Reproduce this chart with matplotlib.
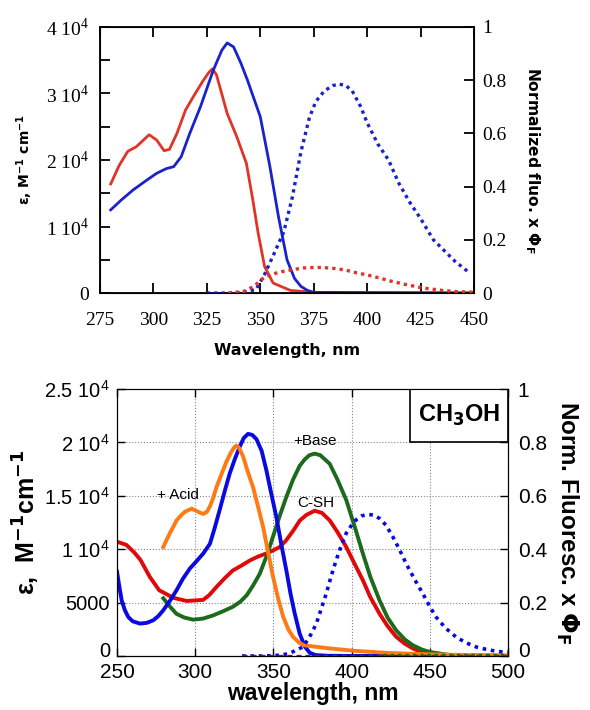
import matplotlib.pyplot as plt
from matplotlib.transforms import ScaledTranslation
import numpy as np

# ---------------- top panel data ----------------
top_red_x = [280, 284, 288, 292, 298, 301.5, 305, 307.5, 311, 315, 319, 323, 326, 327.6,
             329.5, 331.5, 334.5, 339, 343.5, 346.5, 349, 352, 356, 364, 375, 400, 450]
top_red_y = [16400, 19200, 21300, 22000, 23800, 23000, 21400, 21600, 24000, 27500, 29700, 31800,
             33200, 33700, 32800, 30500, 27000, 23500, 19500, 14000, 9000, 4000, 1500, 400, 100, 50, 0]

top_blue_x = [280, 285, 290.5, 297, 301.5, 306, 309.5, 313, 317, 322, 328, 332, 334.5, 337.5,
              341, 344, 350, 354.5, 358.5, 362.5, 366, 369, 372, 375, 400, 450]
top_blue_y = [12500, 14000, 15500, 17000, 18000, 18700, 19000, 20500, 24000, 28000, 33500, 36500,
              37600, 37000, 34500, 32000, 26500, 19000, 11500, 5000, 2200, 1000, 400, 100, 50, 0]

top_fl_blue_x = [325, 335, 342, 348, 352, 356, 361, 365, 369, 373, 376, 380, 384, 387, 390,
                 393, 397, 400, 405, 410, 415, 420, 425, 431, 436, 441, 448]
top_fl_blue_y = [0, 0, 0.003, 0.013, 0.07, 0.14, 0.23, 0.36, 0.53, 0.66, 0.72, 0.76, 0.78, 0.785,
                 0.78, 0.76, 0.70, 0.64, 0.56, 0.50, 0.41, 0.34, 0.28, 0.20, 0.16, 0.12, 0.075]

top_fl_red_x = [335, 342, 347, 352, 356, 360, 365, 370, 375, 379, 385, 390, 395, 400, 405, 411,
                418, 426, 435, 442, 450]
top_fl_red_y = [0, 0.005, 0.025, 0.06, 0.072, 0.08, 0.088, 0.094, 0.096, 0.096, 0.092, 0.086,
                0.076, 0.068, 0.058, 0.045, 0.032, 0.019, 0.01, 0.005, 0.003]

top_xticks = [275, 300, 325, 350, 375, 400, 425, 450]
top_yticks = [0, 10000, 20000, 30000, 40000]
top_ylabels = ["0", r"1 10$^{\mathregular{4}}$", r"2 10$^{\mathregular{4}}$",
               r"3 10$^{\mathregular{4}}$", r"4 10$^{\mathregular{4}}$"]
fl_ticks = [0, 0.2, 0.4, 0.6, 0.8, 1]
fl_labels = ["0", "0.2", "0.4", "0.6", "0.8", "1"]

# ---------------- bottom panel data ----------------
csh_x = [250, 256, 261, 265, 271, 277, 286, 294.5, 305, 309, 313.5, 319, 324, 330, 335, 340,
         345.5, 350, 354, 358, 362.5, 367, 371, 376.4, 381, 386, 391, 396.6, 402, 407.2, 412,
         417.9, 423, 428.5, 434, 439.2, 445, 450, 460, 475, 500]
csh_y = [10700, 10400, 9700, 9000, 7400, 6150, 5450, 5150, 5250, 5700, 6450, 7300, 8000, 8500,
         8950, 9300, 9600, 9900, 10200, 10800, 11700, 12700, 13200, 13600, 13400, 12700, 11600,
         10200, 8600, 7100, 5500, 3950, 2800, 1800, 1150, 700, 350, 200, 60, 10, 0]

base_x = [279.6, 284, 288, 293, 298.7, 305, 311.5, 318, 324, 329, 333, 337, 341.3, 345.5,
          349.8, 354, 358.3, 362.5, 366.8, 370, 373, 376.4, 380, 386, 391, 396.6, 402, 407.2,
          412, 417.9, 423, 428.5, 434, 439.2, 445, 450, 462, 480, 500]
base_y = [5400, 4600, 3950, 3600, 3400, 3500, 3800, 4200, 4600, 5100, 5700, 6600, 7700, 9300,
          11200, 13100, 14900, 16500, 17800, 18400, 18800, 18950, 18800, 18000, 16500, 14600,
          12100, 9600, 7400, 5200, 3600, 2400, 1550, 1000, 600, 370, 100, 20, 0]

blue_x = [250, 251.5, 253, 255, 257.2, 260, 264.7, 269, 273.2, 276.5, 279.6, 284, 288.1, 292,
          296.6, 301, 305.1, 309.4, 312.5, 315.7, 319, 322.1, 325.5, 328.5, 331, 333.8, 336.5,
          339.2, 342.5, 345.5, 348.5, 351.9, 355, 358.3, 361, 363.6, 366.8, 370, 373.2, 377,
          385, 400, 500]
blue_y = [7900, 6500, 5200, 4300, 3650, 3250, 3030, 3100, 3340, 3750, 4280, 5200, 6160, 7200,
          8190, 8900, 9590, 10500, 12000, 13700, 15500, 17100, 18500, 19600, 20400, 20800, 20700,
          20300, 19200, 17400, 15300, 13000, 10500, 8000, 5800, 4000, 2100, 900, 300, 80, 20, 0, 0]

acid_x = [279.6, 281.5, 283.8, 286, 288.1, 290.5, 293.4, 297.7, 301.9, 305.1, 307.5, 309.4,
          311.5, 313.6, 317, 320, 323, 325.3, 326.4, 328, 330.6, 333.5, 337, 340, 343.4, 346.5,
          349.8, 353, 356.2, 359.5, 362.5, 366.8, 370, 375, 381.6, 390, 402.9, 415, 424.2, 440,
          449.8, 470, 500]
acid_y = [10200, 10800, 11500, 12100, 12700, 13100, 13500, 13800, 13500, 13300, 13500, 14000,
          14800, 15800, 17100, 18200, 19100, 19600, 19700, 19500, 18700, 17300, 15800, 14100,
          12100, 9800, 7400, 5400, 3700, 2500, 1800, 1200, 1000, 900, 780, 650, 470, 360, 280, 200,
          150, 100, 60]

fl_blue_x = [330, 345, 355, 360.4, 364, 368.9, 373, 377.4, 380.5, 383.8, 387, 390.2, 393.5,
             396.6, 400, 402.9, 406.5, 410.4, 414, 417.9, 422, 426.4, 430.5, 434.9, 440, 445.5,
             450, 454, 460, 466.8, 473, 479.5, 488, 496.5, 500]
fl_blue_y = [0, 0, 0.003, 0.01, 0.02, 0.034, 0.07, 0.12, 0.175, 0.234, 0.3, 0.36, 0.415, 0.46,
             0.49, 0.51, 0.525, 0.53, 0.528, 0.515, 0.49, 0.446, 0.4, 0.346, 0.29, 0.234, 0.185,
             0.146, 0.105, 0.071, 0.05, 0.034, 0.022, 0.015, 0.013]

fl_csh_x = [330, 500]
fl_csh_y = [0, 0]
fl_base_x = [420, 500]
fl_base_y = [0.002, 0.002]

bot_xticks = [250, 300, 350, 400, 450, 500]
bot_yticks = [0, 5000, 10000, 15000, 20000, 25000]
bot_ylabels = ["0", "5000", r"1 10$^{\mathregular{4}}$", r"1.5 10$^{\mathregular{4}}$",
               r"2 10$^{\mathregular{4}}$", r"2.5 10$^{\mathregular{4}}$"]

# ---------------- figure ----------------
fig = plt.figure(figsize=(5.9, 7.1), dpi=100)

# top panel
serif = "Liberation Serif"
ax1 = fig.add_axes([0.1695, 0.5873, 0.6339, 0.3747])
ax1.plot(top_red_x, top_red_y, color="#e03428", lw=2.0)
ax1.plot(top_blue_x, top_blue_y, color="#1a22cc", lw=2.0)
ax1.set_xlim(275, 450)
ax1.set_ylim(0, 40000)
ax1.set_xticks(top_xticks)
ax1.set_xticklabels([str(t) for t in top_xticks], family=serif, fontsize=14)
ax1.set_yticks(top_yticks)
ax1.set_yticklabels(top_ylabels, family=serif, fontsize=14)
ax1.set_yticks([5000, 15000, 25000, 35000], minor=True)
ax1.tick_params(direction="in", top=True, length=7, width=1.3)
ax1.tick_params(axis="x", pad=14)
ax1.tick_params(axis="y", pad=8)
ax1.tick_params(which="minor", direction="in", length=7, width=1.3)
for s in ax1.spines.values():
    s.set_linewidth(1.3)
ax1.set_xlabel("Wavelength, nm", fontweight="bold", fontsize=11.4, labelpad=10)
ax1.set_ylabel(r"ε, M$^{\mathbf{-1}}$ cm$^{\mathbf{-1}}$", fontweight="bold", fontsize=10,
               labelpad=8)

ax1r = ax1.twinx()
ax1r.plot(top_fl_blue_x, top_fl_blue_y, color="#1a22cc", lw=2.4, ls=(0, (1, 1.2)))
ax1r.plot(top_fl_red_x, top_fl_red_y, color="#e03428", lw=2.4, ls=(0, (1, 1.2)))
ax1r.set_ylim(0, 1)
ax1r.set_yticks(fl_ticks)
ax1r.set_yticklabels(fl_labels, family=serif, fontsize=14)
ax1r.tick_params(direction="in", length=7, width=1.3, pad=6)
ax1r.set_ylabel(r"Normalized fluo. x $\mathbf{\Phi_F}$", fontweight="bold", fontsize=11.2,
                rotation=270, labelpad=25)

# bottom panel
sans = "Liberation Sans"
ax2 = fig.add_axes([0.1983, 0.0761, 0.6627, 0.376])
ax2.plot(csh_x, csh_y, color="#e00808", lw=2.8)
ax2.plot(base_x, base_y, color="#1c6b1c", lw=2.8)
ax2.plot(blue_x, blue_y, color="#0a0ae0", lw=2.8)
ax2.plot(acid_x, acid_y, color="#ff7a14", lw=2.8)
ax2.set_xlim(250, 500)
ax2.set_ylim(0, 25000)
ax2.set_xticks(bot_xticks)
ax2.set_xticklabels([str(t) for t in bot_xticks], family=sans, fontsize=15)
ax2.set_yticks(bot_yticks)
ax2.set_yticklabels(bot_ylabels, family=sans, fontsize=14.5)
ax2.grid(True, ls=":", color="#888888", lw=0.8)
ax2.tick_params(direction="in", top=True, length=6, width=1)
ax2.tick_params(axis="x", pad=5)
ax2.tick_params(axis="y", pad=5)
ax2.set_xlabel("wavelength, nm", fontweight="bold", fontsize=16.5, family=sans, labelpad=0)
ax2.set_ylabel(r"ε,  M$^{\mathbf{-1}}$cm$^{\mathbf{-1}}$", fontweight="bold", fontsize=18,
               family=sans, labelpad=2)
ax2.text(275.5, 15100, "+ Acid", fontsize=11, family=sans, va="center", ha="left")
ax2.text(362.5, 20100, "+Base", fontsize=11, family=sans, va="center", ha="left")
ax2.text(365.5, 14300, "C-SH", fontsize=11, family=sans, va="center", ha="left")
box = plt.Rectangle((0.749, 0.802), 0.251, 0.198, transform=ax2.transAxes, fill=True,
                    facecolor="white", edgecolor="black", lw=1.2, zorder=5)
ax2.add_patch(box)
ax2.text(0.8745, 0.9, r"CH$_{\mathbf{3}}$OH", transform=ax2.transAxes, fontsize=17,
         fontweight="bold", family=sans, ha="center", va="center", zorder=6)

ax2r = ax2.twinx()
ax2r.plot(fl_blue_x, fl_blue_y, color="#0a0ae0", lw=2.6, ls=(0, (1, 1.3)))
ax2r.plot(fl_csh_x, fl_csh_y, color="#8b1a1a", lw=2.4, ls=(0, (1.5, 1.2)))
ax2r.plot(fl_base_x, fl_base_y, color="#1c6b1c", lw=2.4, ls=(0, (1, 1.2)))
ax2r.set_ylim(0, 1)
ax2r.set_yticks(fl_ticks)
ax2r.set_yticklabels(fl_labels, family=sans, fontsize=15)
ax2r.tick_params(direction="in", length=6, width=1, pad=7)
ax2r.set_ylabel(r"Norm. Fluoresc. x $\mathbf{\Phi_F}$", fontweight="bold", fontsize=17.4,
                family=sans, rotation=270, labelpad=24)

# lift the two "0" labels a little so they clear the corner x labels
lift = ScaledTranslation(0, 5 / 72, fig.dpi_scale_trans)
for lab in (ax2.get_yticklabels()[0], ax2r.get_yticklabels()[0]):
    lab.set_transform(lab.get_transform() + lift)

fig.savefig("out.png", dpi=100)
